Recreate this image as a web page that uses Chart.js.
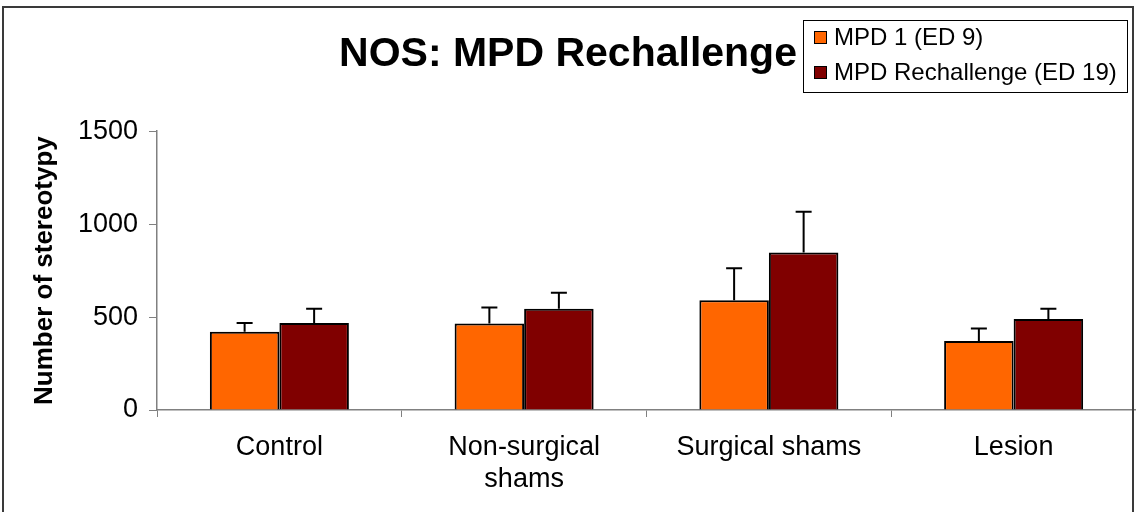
<!DOCTYPE html>
<html>
<head>
<meta charset="utf-8">
<script src="https://cdn.jsdelivr.net/npm/chart.js@4"></script>
<style>
  html, body { margin: 0; padding: 0; background: #fff; overflow: hidden; }
  #wrap { width: 1136px; height: 512px; }
</style>
</head>
<body>
<div id="wrap"><canvas id="nos-chart"></canvas></div>
<script>
const categories = ['Control', ['Non-surgical', 'shams'], 'Surgical shams', 'Lesion'];
const mpd1Vals = [421, 466, 591, 371];
const mpd1Err = [47, 86, 171, 68];
const rechalVals = [468, 545, 848, 489];
const rechalErr = [77, 86, 218, 56];
const yTicks = [0, 500, 1000, 1500];
const seriesNames = ['MPD 1 (ED 9)', 'MPD Rechallenge (ED 19)'];

const FONT = "'Liberation Sans', Arial, sans-serif";

// error bars (upper only)
const errorBars = {
  id: 'errorBars',
  afterDatasetsDraw(chart) {
    const { ctx, scales: { y } } = chart;
    const errs = [mpd1Err, rechalErr];
    ctx.save();
    ctx.strokeStyle = '#000';
    ctx.lineWidth = 2;
    chart.data.datasets.forEach((ds, i) => {
      const meta = chart.getDatasetMeta(i);
      meta.data.forEach((bar, j) => {
        const top = y.getPixelForValue(ds.data[j] + errs[i][j]);
        ctx.beginPath();
        ctx.moveTo(bar.x, bar.y);
        ctx.lineTo(bar.x, top);
        ctx.moveTo(bar.x - 8, top);
        ctx.lineTo(bar.x + 8, top);
        ctx.stroke();
      });
    });
    ctx.restore();
  }
};

// legend box + outer frame
const boxLegend = {
  id: 'boxLegend',
  afterDraw(chart) {
    const { ctx } = chart;
    ctx.save();
    ctx.fillStyle = '#fff';
    ctx.fillRect(803, 20, 324, 72);
    ctx.strokeStyle = '#000';
    ctx.lineWidth = 1;
    ctx.strokeRect(803.5, 20.5, 324, 72);
    ctx.font = '24px ' + FONT;
    ctx.textBaseline = 'middle';
    chart.data.datasets.forEach((ds, i) => {
      const cy = 37 + i * 35;
      ctx.fillStyle = ds.backgroundColor;
      ctx.fillRect(814, cy - 6, 13, 13);
      ctx.strokeStyle = '#000';
      ctx.strokeRect(814.5, cy - 5.5, 12, 12);
      ctx.fillStyle = '#000';
      ctx.fillText(ds.label, 834, cy + 1);
    });
    ctx.strokeStyle = '#3a3a3a';
    ctx.lineWidth = 2;
    ctx.strokeRect(3, 7, 1130, 520);
    ctx.restore();
  }
};

const bg = {
  id: 'bg',
  beforeDraw(chart) {
    const { ctx, width, height } = chart;
    ctx.save();
    ctx.fillStyle = '#fff';
    ctx.fillRect(0, 0, width, height);
    ctx.restore();
  }
};

const data = {
  labels: categories,
  datasets: [
    {
      label: seriesNames[0],
      data: mpd1Vals,
      backgroundColor: '#FF6600',
      borderColor: '#000',
      borderWidth: 2,
    },
    {
      label: seriesNames[1],
      data: rechalVals,
      backgroundColor: '#800000',
      borderColor: '#000',
      borderWidth: 2,
    }
  ]
};

const config = {
  type: 'bar',
  data: data,
  options: {
    responsive: true,
    maintainAspectRatio: false,
    animation: false,
    categoryPercentage: 0.568,
    barPercentage: 1.0,
    layout: { padding: { top: 0, left: 0, right: 0, bottom: 0 } },
    plugins: {
      legend: { display: false },
      tooltip: { enabled: false },
      title: {
        display: true,
        text: 'NOS: MPD Rechallenge',
        color: '#000',
        font: { family: FONT, size: 41, weight: 'bold' },
        padding: { top: 30, bottom: 52 },
      }
    },
    scales: {
      x: {
        grid: {
          display: true,
          drawOnChartArea: false,
          drawTicks: true,
          tickLength: 7,
          color: '#808080',
        },
        border: { color: '#808080', width: 1.5 },
        ticks: {
          color: '#000',
          maxRotation: 0,
          autoSkip: false,
          padding: 15,
          font: { family: FONT, size: 27, lineHeight: 1.18 },
        },
        afterFit(scale) { scale.height = 102; }
      },
      y: {
        min: 0,
        max: 1500,
        afterBuildTicks(scale) { scale.ticks = yTicks.map(v => ({ value: v })); },
        grid: {
          display: true,
          drawOnChartArea: false,
          drawTicks: true,
          tickLength: 8,
          color: '#808080',
        },
        border: { color: '#808080', width: 1.5 },
        ticks: {
          color: '#000',
          padding: 11,
          font: { family: FONT, size: 27 },
          callback: (value) => String(value),
        },
        title: {
          display: true,
          text: 'Number of stereotypy',
          color: '#000',
          font: { family: FONT, size: 26, weight: 'bold' },
          padding: { top: 29, bottom: 0 },
        },
        afterFit(scale) { scale.width = 157; }
      }
    }
  },
  plugins: [bg, errorBars, boxLegend]
};

const myChart = new Chart(document.getElementById('nos-chart'), config);
</script>
</body>
</html>
